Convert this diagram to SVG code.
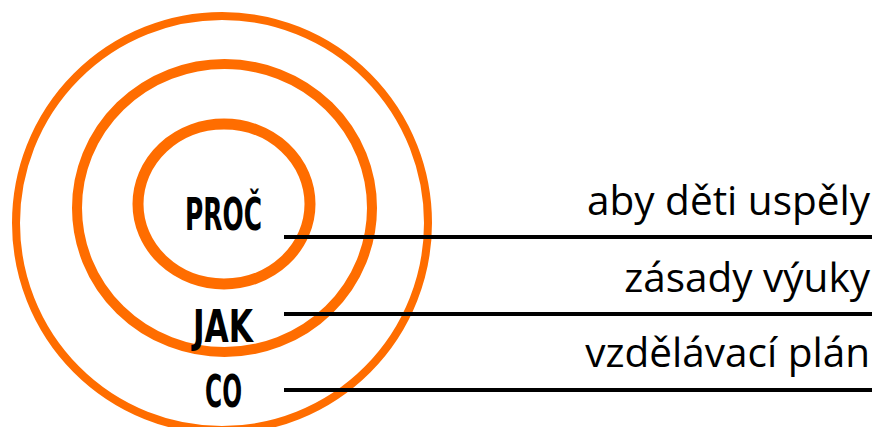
<svg xmlns="http://www.w3.org/2000/svg" width="874" height="427" viewBox="0 0 874 427">
<style>
.ring{fill:none;stroke:#ff6d00}
.lbl{font-family:"DejaVu Sans Condensed","Liberation Sans Narrow",sans-serif;font-weight:bold;font-size:44px;fill:#000;text-anchor:middle}
.txt{font-family:"Open Sans","Noto Sans",sans-serif;font-size:40.5px;fill:#000;text-anchor:end}
.ln{stroke:#000;stroke-width:4}
</style>
<rect width="874" height="427" fill="#fff"/>
<g id="outer"><ellipse class="ring" cx="222" cy="223" rx="206" ry="207" stroke-width="8"/></g>
<g id="middle"><ellipse class="ring" cx="224.5" cy="208" rx="147.5" ry="144" stroke-width="10"/></g>
<g id="inner"><ellipse class="ring" cx="224" cy="204" rx="86" ry="80" stroke-width="11"/></g>
<g id="connectors">
<line class="ln" x1="284" y1="237" x2="872" y2="237"/>
<line class="ln" x1="284" y1="314" x2="872" y2="314"/>
<line class="ln" x1="284" y1="390" x2="872" y2="390"/>
</g>
<g id="proc"><text class="lbl" x="223.5" y="230" textLength="77" lengthAdjust="spacingAndGlyphs">PROČ</text></g>
<g id="jak"><text class="lbl" x="223" y="342" textLength="60" lengthAdjust="spacingAndGlyphs">JAK</text></g>
<g id="co"><text class="lbl" x="223.5" y="407" textLength="37" lengthAdjust="spacingAndGlyphs">CO</text></g>
<g id="t1"><text class="txt" x="870" y="215">aby děti uspěly</text></g>
<g id="t2"><text class="txt" x="870" y="292">zásady výuky</text></g>
<g id="t3"><text class="txt" x="870" y="367">vzdělávací plán</text></g>
</svg>
